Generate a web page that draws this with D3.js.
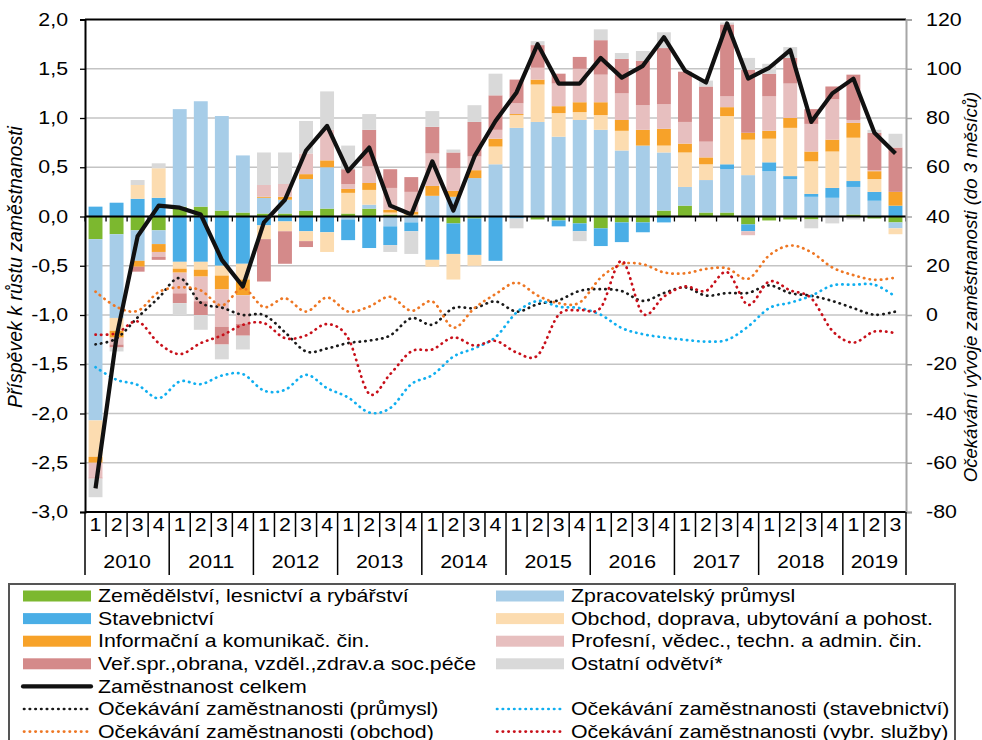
<!DOCTYPE html>
<html>
<head>
<meta charset="utf-8">
<script src="https://cdn.jsdelivr.net/npm/d3@7"></script>
<style>
  body { margin: 0; background: #fff; }
  text { font-family: "Liberation Sans", Arial, sans-serif; fill: #000; }
</style>
</head>
<body>
<div id="chart"></div>
<script>
// categories
var years = ["2010", "2011", "2012", "2013", "2014", "2015", "2016", "2017", "2018", "2019"];
var quarterNames = ["1", "2", "3", "4"];
var periods = years.flatMap(y => quarterNames.map(q => y + "-" + q)).slice(0, 39);

// contributions to employment growth (p.p.)
var agri = [-0.23, -0.18, -0.14, -0.14, 0.10, 0.10, 0.06, 0.04, 0.03, 0.03,
  0.06, 0.08, 0.03, 0.08, 0.02, 0.01, 0.0, -0.07, -0.02, 0.0,
  0.0, -0.03, -0.04, -0.07, -0.12, -0.06, -0.06, 0.06, 0.11, 0.04,
  0.04, -0.08, -0.04, -0.03, -0.03, 0.0, 0.02, -0.02, -0.06];
var manuf = [-1.84, -0.85, -0.31, -0.14, 0.99, 1.07, 0.96, 0.58, 0.16, 0.14,
  0.32, 0.42, -0.03, 0.04, -0.10, -0.06, 0.21, 0.20, 0.39, 0.53,
  0.90, 0.96, 0.81, 0.98, 0.88, 0.67, 0.72, 0.59, 0.19, 0.33,
  0.44, 0.42, 0.46, 0.38, 0.20, 0.19, 0.28, 0.16, -0.06];
var constr = [0.10, 0.14, 0.18, 0.19, -0.46, -0.46, -0.50, -0.48, -0.09, -0.05,
  -0.15, -0.16, -0.21, -0.32, -0.19, -0.09, -0.44, -0.31, -0.37, -0.45,
  -0.02, 0.0, -0.06, -0.08, -0.18, -0.20, -0.10, -0.06, 0.0, 0.0,
  0.05, -0.07, 0.09, 0.03, 0.03, 0.10, 0.06, 0.09, 0.11];
var trade = [-0.37, -0.13, 0.14, 0.30, -0.07, -0.08, -0.10, -0.16, -0.14, -0.10,
  -0.10, -0.20, 0.21, 0.15, 0.02, 0.01, -0.07, -0.26, -0.11, 0.18,
  0.13, 0.38, 0.24, 0.08, 0.15, 0.20, 0.0, 0.07, 0.35, 0.16,
  0.49, 0.36, 0.24, 0.49, 0.33, 0.37, 0.44, 0.13, -0.06];
var info = [-0.06, -0.07, -0.06, -0.08, -0.04, -0.07, -0.14, -0.16, 0.01, 0.03,
  0.05, 0.07, 0.04, 0.07, 0.03, 0.03, 0.10, 0.06, 0.08, 0.08,
  0.01, 0.05, 0.07, 0.10, 0.13, 0.11, 0.16, 0.17, 0.09, 0.07,
  0.09, 0.07, 0.08, 0.10, 0.10, 0.12, 0.15, 0.08, 0.14];
var prof = [-0.15, -0.07, 0.0, -0.05, -0.21, -0.25, -0.38, -0.29, 0.12, 0.13,
  0.21, 0.31, 0.05, 0.17, 0.22, 0.20, 0.33, 0.23, 0.14, 0.09,
  0.11, 0.12, 0.23, 0.34, 0.28, 0.27, 0.25, 0.25, 0.22, 0.16,
  0.11, -0.04, 0.35, 0.35, 0.28, 0.41, 0.03, 0.01, 0.0];
var publicSec = [-0.01, -0.03, -0.05, -0.03, -0.10, -0.14, -0.18, -0.12, -0.43, -0.33,
  -0.06, 0.0, 0.15, 0.37, 0.19, 0.15, 0.27, 0.16, 0.35, 0.35,
  0.24, 0.23, 0.10, 0.12, 0.35, 0.35, 0.45, 0.57, 0.51, 0.56,
  0.73, 0.64, 0.23, 0.26, 0.15, 0.13, 0.46, 0.38, 0.45];
var other = [-0.19, -0.04, 0.05, 0.05, -0.12, -0.15, -0.15, -0.14, 0.33, 0.32,
  0.33, 0.39, 0.24, 0.16, -0.07, -0.23, 0.16, 0.03, 0.17, 0.22,
  -0.10, 0.04, 0.0, -0.10, 0.11, 0.06, 0.10, 0.16, 0.0, 0.06,
  0.02, 0.12, 0.10, 0.11, -0.09, -0.07, -0.03, 0.03, 0.14];

// total employment (left axis)
var total = [-2.76, -1.22, -0.20, 0.11, 0.09, 0.02, -0.44, -0.71, -0.06, 0.17,
  0.67, 0.92, 0.46, 0.70, 0.11, 0.02, 0.56, 0.06, 0.61, 0.97,
  1.26, 1.75, 1.35, 1.35, 1.61, 1.41, 1.53, 1.82, 1.48, 1.36,
  1.96, 1.40, 1.51, 1.69, 0.96, 1.25, 1.40, 0.85, 0.64];

// employment expectations (right axis)
var expIndustry = [-11.9, -9.5, -1, 7, 15, 5, 3, 0, 0, -7,
  -14.8, -13.6, -11.4, -10.4, -8.3, -1.3, -3.9, 2.8, 2.8, 5.5,
  1.4, 4.4, 6, 9.8, 10.5, 9.7, 5.7, 8.9, 11.2, 7.9,
  8.9, 9, 12, 8.9, 7.8, 5.7, 2.8, 0.1, 1.4];
var expConstruction = [-21.2, -26.3, -28.4, -33.8, -27, -28.1, -24.6, -24, -30.7, -30.4,
  -24.3, -29.7, -33.5, -39.6, -37.8, -28.1, -24.4, -16.9, -13.5, -9,
  1, 5.7, 3.4, 2.8, 0.1, -5.3, -7.8, -9.1, -10.1, -10.8,
  -10.1, -4.7, 2.8, 5, 7.8, 12, 12.3, 12.3, 7.5];
var expTrade = [9.5, 3.3, 1.7, 9.3, 11.2, 10, 3.9, 10.9, 3.2, 6.8,
  1.4, 7.1, 1.4, 3.4, 7.4, 1.7, 5.5, -5.1, 2.8, 8.5,
  13.1, 7.9, 4.8, 5.1, 15.2, 20.6, 20.6, 17.3, 16.9, 18.7,
  19, 14.7, 24.2, 28.2, 25.5, 19.3, 16.2, 14.3, 15.2];
var expServices = [-8, -7.4, -2.6, -11.4, -15.9, -11.4, -8.3, -4, -3.3, -9.4,
  -8.3, -3.7, -9.4, -32, -24, -14.8, -14, -9.1, -12.4, -10.5,
  -15.2, -16.4, 0.1, 2, 3, 22, 0.5, 7.5, 11.6, 9.8,
  17.4, 4.1, 13.6, 10, 6.8, -6.4, -11.2, -6.7, -7.4];

var keys = ["agri", "manuf", "constr", "trade", "info", "prof", "publicSec", "other"];
var colors = {
    agri: "#7cb82f", manuf: "#a7cde8", constr: "#4aaee6", trade: "#fcdcb0",
    info: "#f7a229", prof: "#e7bfbf", publicSec: "#d48a8a", other: "#d9d9d9"
};
var names = {
    agri: "Zemědělství, lesnictví a rybářství",
    manuf: "Zpracovatelský průmysl",
    constr: "Stavebnictví",
    trade: "Obchod, doprava, ubytování a pohost.",
    info: "Informační a komunikač. čin.",
    prof: "Profesní, vědec., techn. a admin. čin.",
    publicSec: "Veř.spr.,obrana, vzděl.,zdrav.a soc.péče",
    other: "Ostatní odvětví*"
};
var expLines = [
    { name: "Očekávání zaměstnanosti (průmysl)", values: expIndustry, color: "#1a1a1a" },
    { name: "Očekávání zaměstnanosti (stavebnictví)", values: expConstruction, color: "#10aff0" },
    { name: "Očekávání zaměstnanosti (obchod)", values: expTrade, color: "#ee7724" },
    { name: "Očekávání zaměstnanosti (vybr. služby)", values: expServices, color: "#c8101a" }
];

var W = 982, H = 740;
var plotL = 85, plotR = 906, plotT = 19.5, plotB = 512;
var FS = 17.5, SX = 1.22;

var svg = d3.select("#chart").append("svg").attr("width", W).attr("height", H);

var x = d3.scaleBand().domain(periods).range([plotL, plotR]);
var bw = x.bandwidth();
var y = d3.scaleLinear().domain([-3, 2]).range([plotB, plotT]);
var yR = d3.scaleLinear().domain([-80, 120]).range([plotB, plotT]);

var csFormat = d3.formatLocale({ decimal: ",", thousands: " ", grouping: [3], currency: ["", ""], minus: "-" }).format(".1f");

// horizontal text, a bit wider like in the source picture
function label(g, px, py, s, anchor) {
    return g.append("text")
        .attr("transform", "translate(" + px + "," + py + ") scale(" + SX + ",1)")
        .attr("text-anchor", anchor || "start")
        .attr("dy", "0.35em")
        .style("font-size", FS + "px")
        .text(s);
}

// gridlines
svg.append("g").selectAll("line")
    .data(d3.range(-2.5, 2.0, 0.5))
    .join("line")
    .attr("x1", plotL).attr("x2", plotR)
    .attr("y1", d => y(d)).attr("y2", d => y(d))
    .attr("stroke", "#c4c4c4").attr("stroke-width", 1.3);

// stacked bars
var table = periods.map((p, i) => ({
    period: p, agri: agri[i], manuf: manuf[i], constr: constr[i], trade: trade[i],
    info: info[i], prof: prof[i], publicSec: publicSec[i], other: other[i]
}));
var stacked = d3.stack().keys(keys).offset(d3.stackOffsetDiverging)(table);

svg.append("g").selectAll("g")
    .data(stacked)
    .join("g")
    .attr("fill", d => colors[d.key])
    .selectAll("rect")
    .data(d => d)
    .join("rect")
    .attr("x", d => x(d.data.period) + bw * 0.17)
    .attr("width", bw * 0.66)
    .attr("y", d => y(Math.max(d[0], d[1])))
    .attr("height", d => Math.abs(y(d[0]) - y(d[1])));

// plot frame
svg.append("line").attr("x1", plotL).attr("x2", plotR).attr("y1", plotT).attr("y2", plotT)
    .attr("stroke", "#000").attr("stroke-width", 2);
svg.append("line").attr("x1", plotL).attr("x2", plotR).attr("y1", plotB).attr("y2", plotB)
    .attr("stroke", "#000").attr("stroke-width", 2);

// zero line with category ticks
svg.append("line").attr("x1", plotL).attr("x2", plotR).attr("y1", y(0)).attr("y2", y(0))
    .attr("stroke", "#000").attr("stroke-width", 2);
var bounds = d3.range(0, periods.length + 1).map(k => plotL + k * x.step());
svg.append("g").selectAll("line")
    .data(bounds)
    .join("line")
    .attr("x1", d => d).attr("x2", d => d)
    .attr("y1", y(0)).attr("y2", y(0) + 5)
    .attr("stroke", "#000").attr("stroke-width", 1.3);

// left axis
var axL = svg.append("g").attr("transform", "translate(" + plotL + ",0)")
    .call(d3.axisLeft(y).tickValues(d3.range(-3, 2.01, 0.5)).tickSize(5).tickPadding(8.9).tickFormat(csFormat));
axL.select(".domain").attr("stroke", "#000").attr("stroke-width", 2);
axL.selectAll(".tick line").attr("stroke", "#000").attr("stroke-width", 1.3);
axL.selectAll(".tick text").attr("transform", "scale(" + SX + ",1)")
    .style("font-size", FS + "px").style("font-family", "Liberation Sans, Arial, sans-serif");

// right axis
var axR = svg.append("g").attr("transform", "translate(" + plotR + ",0)")
    .call(d3.axisRight(yR).tickValues(d3.range(-80, 121, 20)).tickSize(6).tickPadding(10.5).tickFormat(d => String(d)));
axR.select(".domain").attr("stroke", "#a6a6a6").attr("stroke-width", 2);
axR.selectAll(".tick line").attr("stroke", "#a6a6a6").attr("stroke-width", 1.5);
axR.selectAll(".tick text").attr("transform", "scale(" + SX + ",1)")
    .style("font-size", FS + "px").style("font-family", "Liberation Sans, Arial, sans-serif");

// axis titles
svg.append("text")
    .attr("transform", "translate(22,267) rotate(-90)")
    .attr("text-anchor", "middle")
    .style("font-size", "19.5px").style("font-style", "italic")
    .text("Příspěvek k růstu zaměstnanosti");
svg.append("text")
    .attr("transform", "translate(977,287) rotate(-90)")
    .attr("text-anchor", "middle")
    .style("font-size", "18.6px").style("font-style", "italic")
    .text("Očekávání vývoje zaměstnanosti (do 3 měsíců)");

// category axis: quarters and years
var cat = svg.append("g");
cat.selectAll("line")
    .data(bounds)
    .join("line")
    .attr("x1", d => d).attr("x2", d => d)
    .attr("y1", plotB)
    .attr("y2", (d, k) => (k % 4 === 0 || k === periods.length) ? 575 : 537)
    .attr("stroke", "#000").attr("stroke-width", 1.5);
periods.forEach(p => label(cat, x(p) + bw / 2, 525, p.split("-")[1], "middle"));
years.forEach(yr => {
    var ps = periods.filter(p => p.startsWith(yr));
    var cx = (x(ps[0]) + x(ps[ps.length - 1]) + bw) / 2;
    label(cat, cx, 562, yr, "middle");
});

// expectation lines (right axis)
var smooth = d3.line()
    .x((d, i) => x(periods[i]) + bw / 2)
    .y(d => yR(d))
    .curve(d3.curveCardinal.tension(0));
svg.append("g").selectAll("path")
    .data(expLines)
    .join("path")
    .attr("d", d => smooth(d.values))
    .attr("fill", "none")
    .attr("stroke", d => d.color)
    .attr("stroke-width", 2.7)
    .attr("stroke-linecap", "round")
    .attr("stroke-dasharray", "0.4 5.3");

// total employment
var straight = d3.line()
    .x((d, i) => x(periods[i]) + bw / 2)
    .y(d => y(d));
svg.append("path")
    .attr("d", straight(total))
    .attr("fill", "none")
    .attr("stroke", "#111")
    .attr("stroke-width", 4.2)
    .attr("stroke-linejoin", "round");

// legend
var lg = svg.append("g");
lg.append("rect").attr("x", 9).attr("y", 584).attr("width", 946).attr("height", 180)
    .attr("fill", "#fff").attr("stroke", "#555").attr("stroke-width", 2);

var items = [
    { kind: "rect", key: "agri", row: 0, col: 0 }, { kind: "rect", key: "manuf", row: 0, col: 1 },
    { kind: "rect", key: "constr", row: 1, col: 0 }, { kind: "rect", key: "trade", row: 1, col: 1 },
    { kind: "rect", key: "info", row: 2, col: 0 }, { kind: "rect", key: "prof", row: 2, col: 1 },
    { kind: "rect", key: "publicSec", row: 3, col: 0 }, { kind: "rect", key: "other", row: 3, col: 1 },
    { kind: "total", row: 4, col: 0 },
    { kind: "dot", line: expLines[0], row: 5, col: 0 }, { kind: "dot", line: expLines[1], row: 5, col: 1 },
    { kind: "dot", line: expLines[2], row: 6, col: 0 }, { kind: "dot", line: expLines[3], row: 6, col: 1 }
];
var colX = [23, 496];
items.forEach(it => {
    var sx = colX[it.col];
    var cy = 596 + it.row * 22.6;
    if (it.kind === "rect") {
        lg.append("rect").attr("x", sx).attr("y", cy - 5.5).attr("width", 68).attr("height", 11)
            .attr("fill", colors[it.key]);
        label(lg, sx + 75, cy, names[it.key]);
    } else if (it.kind === "total") {
        lg.append("line").attr("x1", sx).attr("x2", sx + 68).attr("y1", cy).attr("y2", cy)
            .attr("stroke", "#111").attr("stroke-width", 4.2).attr("stroke-linecap", "round");
        label(lg, sx + 75, cy, "Zaměstnanost celkem");
    } else {
        lg.append("line").attr("x1", sx + 1).attr("x2", sx + 66).attr("y1", cy).attr("y2", cy)
            .attr("stroke", it.line.color).attr("stroke-width", 2.7)
            .attr("stroke-linecap", "round").attr("stroke-dasharray", "0.4 5.3");
        label(lg, sx + 75, cy, it.line.name);
    }
});
</script>
</body>
</html>
